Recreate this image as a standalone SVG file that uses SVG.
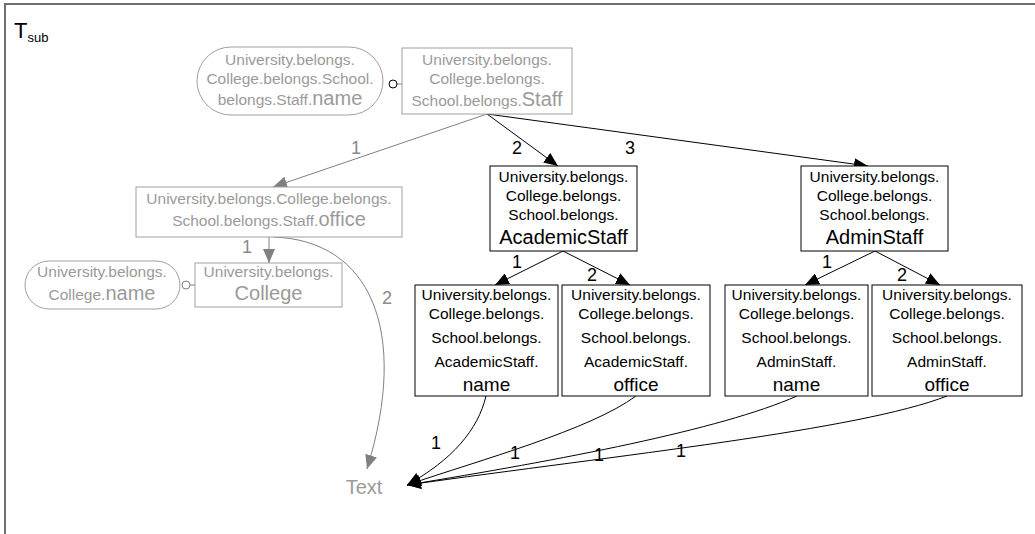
<svg xmlns="http://www.w3.org/2000/svg" width="1035" height="534" viewBox="0 0 1035 534">
  <defs>
    <marker id="ah" viewBox="0 0 14 12" refX="14" refY="6" markerWidth="14" markerHeight="12" markerUnits="userSpaceOnUse" orient="auto">
      <path d="M0,0 L14,6 L0,12 z" fill="#000"/>
    </marker>
    <marker id="ahg" viewBox="0 0 14 12" refX="14" refY="6" markerWidth="14" markerHeight="12" markerUnits="userSpaceOnUse" orient="auto">
      <path d="M0,0 L14,6 L0,12 z" fill="#808080"/>
    </marker>
  </defs>
  <style>
    text { font-family: "Liberation Sans", Arial, sans-serif; text-anchor: middle; }
    .t { font-size: 15.5px; fill: #000; }
    .tg { font-size: 15.5px; fill: #9a9a9a; }
    .big { font-size: 20px; }
    .nm { font-size: 19px; }
    .box { fill: #fff; stroke: #000; stroke-width: 1; }
    .boxg { fill: #fff; stroke: #a0a0a0; stroke-width: 1; }
    .edge { fill: none; stroke: #000; stroke-width: 1; }
    .edgeg { fill: none; stroke: #808080; stroke-width: 1; }
    .lbl { font-size: 18px; fill: #000; }
    .lblg { font-size: 18px; fill: #8a8a8a; }
  </style>

  <rect width="1035" height="534" fill="#fff"/>
  <!-- frame -->
  <path d="M5,534 V4 H1035" fill="none" stroke="#707070" stroke-width="2"/>
  <text x="14" y="38" style="text-anchor:start;font-size:22px">T<tspan font-size="13" dy="4">sub</tspan></text>

  <!-- connectors -->
  <g id="connectors">
    <!-- attribute links -->
    <line class="edgeg" x1="397" y1="84" x2="402" y2="84"/>
    <circle cx="393" cy="84" r="4" fill="#fff" stroke="#000" stroke-width="1"/>
    <line class="edgeg" x1="190" y1="285" x2="195" y2="285"/>
    <circle cx="186" cy="285" r="4" fill="#fff" stroke="#808080" stroke-width="1"/>

    <!-- from Staff -->
    <line class="edgeg" x1="487" y1="114" x2="273" y2="187" marker-end="url(#ahg)"/>
    <line class="edge" x1="487" y1="114" x2="558" y2="166" marker-end="url(#ah)"/>
    <line class="edge" x1="487" y1="114" x2="868" y2="166" marker-end="url(#ah)"/>
    <text class="lblg" x="356" y="154">1</text>
    <text class="lbl" x="517" y="154">2</text>
    <text class="lbl" x="630" y="154">3</text>

    <!-- from office -->
    <line class="edgeg" x1="269" y1="237" x2="269" y2="263" marker-end="url(#ahg)"/>
    <text class="lblg" x="247" y="253">1</text>
    <path class="edgeg" d="M273,237 C370,240 410,330 367,469" marker-end="url(#ahg)"/>
    <text class="lblg" x="387" y="304">2</text>

    <!-- from AcademicStaff -->
    <line class="edge" x1="563" y1="251" x2="495" y2="285" marker-end="url(#ah)"/>
    <line class="edge" x1="563" y1="251" x2="630" y2="285" marker-end="url(#ah)"/>
    <text class="lbl" x="517" y="268">1</text>
    <text class="lbl" x="592" y="281">2</text>

    <!-- from AdminStaff -->
    <line class="edge" x1="875" y1="251" x2="805" y2="285" marker-end="url(#ah)"/>
    <line class="edge" x1="875" y1="251" x2="940" y2="285" marker-end="url(#ah)"/>
    <text class="lbl" x="827" y="268">1</text>
    <text class="lbl" x="902" y="281">2</text>

    <!-- to Text -->
    <path class="edge" d="M486,396 C478,430 452,460 407,485" marker-end="url(#ah)"/>
    <path class="edge" d="M636,396 C590,430 480,460 407,485" marker-end="url(#ah)"/>
    <path class="edge" d="M797,396 C720,430 560,460 407,485" marker-end="url(#ah)"/>
    <path class="edge" d="M947,396 C860,430 620,455 407,485" marker-end="url(#ah)"/>
    <text class="lbl" x="436" y="449">1</text>
    <text class="lbl" x="515" y="459">1</text>
    <text class="lbl" x="599" y="461">1</text>
    <text class="lbl" x="681" y="457">1</text>
  </g>

  <g id="staff-name">
    <rect class="boxg" x="197" y="47" width="186" height="68" rx="34"/>
    <text class="tg" x="290" y="65">University.belongs.</text>
    <text class="tg" x="290" y="84">College.belongs.School.</text>
    <text class="tg" x="290" y="105">belongs.Staff.<tspan class="big">name</tspan></text>
  </g>

  <g id="staff">
    <rect class="boxg" x="402" y="48" width="170" height="66"/>
    <text class="tg" x="487" y="65">University.belongs.</text>
    <text class="tg" x="487" y="84">College.belongs.</text>
    <text class="tg" x="487" y="106">School.belongs.<tspan class="big">Staff</tspan></text>
  </g>

  <g id="staff-office">
    <rect class="boxg" x="136" y="187" width="266" height="50"/>
    <text class="tg" x="269" y="204">University.belongs.College.belongs.</text>
    <text class="tg" x="269" y="226">School.belongs.Staff.<tspan class="big">office</tspan></text>
  </g>

  <g id="college">
    <rect class="boxg" x="195" y="263" width="147" height="44"/>
    <text class="tg" x="268.5" y="277">University.belongs.</text>
    <text class="tg big" x="268.5" y="300">College</text>
  </g>

  <g id="college-name">
    <rect class="boxg" x="25" y="261" width="155" height="48" rx="24"/>
    <text class="tg" x="102" y="277">University.belongs.</text>
    <text class="tg" x="102" y="300">College.<tspan class="big">name</tspan></text>
  </g>

  <g id="text-node">
    <text x="364" y="494" style="font-size:20px;fill:#9a9a9a">Text</text>
  </g>

  <g id="academic-staff">
    <rect class="box" x="490" y="166" width="147" height="85"/>
    <text class="t" x="563.5" y="182">University.belongs.</text>
    <text class="t" x="563.5" y="201">College.belongs.</text>
    <text class="t" x="563.5" y="220">School.belongs.</text>
    <text class="t big" x="563.5" y="244">AcademicStaff</text>
  </g>

  <g id="admin-staff">
    <rect class="box" x="801" y="166" width="147" height="85"/>
    <text class="t" x="874.5" y="182">University.belongs.</text>
    <text class="t" x="874.5" y="201">College.belongs.</text>
    <text class="t" x="874.5" y="220">School.belongs.</text>
    <text class="t big" x="874.5" y="244">AdminStaff</text>
  </g>

  <g id="academic-name">
    <rect class="box" x="415" y="285" width="143" height="111"/>
    <text class="t" x="486.5" y="300">University.belongs.</text>
    <text class="t" x="486.5" y="319">College.belongs.</text>
    <text class="t" x="486.5" y="343">School.belongs.</text>
    <text class="t" x="486.5" y="367">AcademicStaff.</text>
    <text class="t nm" x="486.5" y="391">name</text>
  </g>

  <g id="academic-office">
    <rect class="box" x="562" y="285" width="148" height="111"/>
    <text class="t" x="636" y="300">University.belongs.</text>
    <text class="t" x="636" y="319">College.belongs.</text>
    <text class="t" x="636" y="343">School.belongs.</text>
    <text class="t" x="636" y="367">AcademicStaff.</text>
    <text class="t nm" x="636" y="391">office</text>
  </g>

  <g id="admin-name">
    <rect class="box" x="725" y="285" width="143" height="111"/>
    <text class="t" x="796.5" y="300">University.belongs.</text>
    <text class="t" x="796.5" y="319">College.belongs.</text>
    <text class="t" x="796.5" y="343">School.belongs.</text>
    <text class="t" x="796.5" y="367">AdminStaff.</text>
    <text class="t nm" x="796.5" y="391">name</text>
  </g>

  <g id="admin-office">
    <rect class="box" x="872" y="285" width="150" height="111"/>
    <text class="t" x="947" y="300">University.belongs.</text>
    <text class="t" x="947" y="319">College.belongs.</text>
    <text class="t" x="947" y="343">School.belongs.</text>
    <text class="t" x="947" y="367">AdminStaff.</text>
    <text class="t nm" x="947" y="391">office</text>
  </g>
</svg>
